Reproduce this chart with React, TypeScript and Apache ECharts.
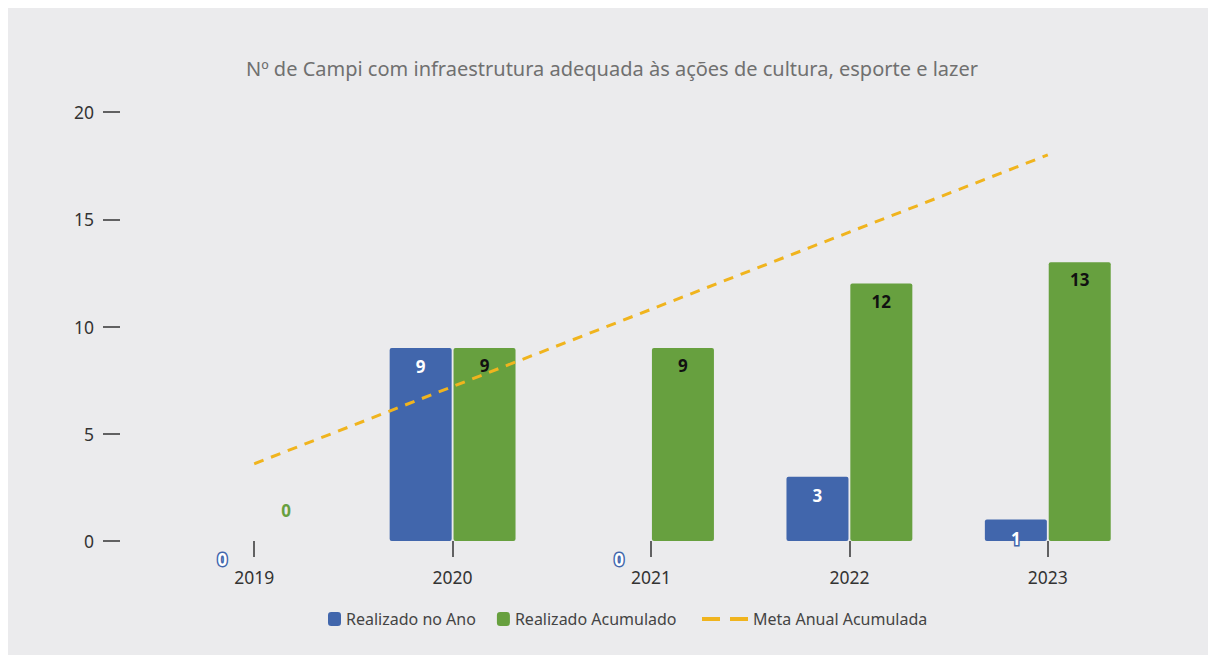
import React, { useEffect, useRef } from "react";
import * as echarts from "echarts";

const categories = ["2019", "2020", "2021", "2022", "2023"];
const realizadoAno = [0, 9, 0, 3, 1];
const realizadoAcumulado = [0, 9, 9, 12, 13];
const metaAnualAcumulada = [3.6, 7.2, 10.8, 14.4, 18.0];
const yTicks = { min: 0, max: 20, interval: 5 };

const BLUE = "#4166AC";
const GREEN = "#67A03F";
const GOLD = "#F0B41E";
const FONT = "'Noto Sans', 'Open Sans', sans-serif";

export default function App() {
  const ref = useRef<HTMLDivElement>(null);
  useEffect(() => {
    if (!ref.current) return;
    const chart = echarts.init(ref.current, undefined, { renderer: "svg" });
    const legendText = { fontSize: 16, color: "#444", fontFamily: FONT };
    chart.setOption({
      animation: false,
      backgroundColor: "#EBEBED",
      textStyle: { fontFamily: FONT },
      title: {
        text: "Nº de Campi com infraestrutura adequada às ações de cultura, esporte e lazer",
        left: "center",
        top: 45,
        textStyle: { fontSize: 20, fontWeight: "normal", color: "#707070", fontFamily: FONT },
      },
      legend: [
        {
          top: 598,
          left: 315,
          itemWidth: 13,
          itemHeight: 14,
          itemGap: 21,
          textStyle: legendText,
          data: [
            { name: "Realizado no Ano", icon: "roundRect" },
            { name: "Realizado Acumulado", icon: "roundRect" },
          ],
        },
        {
          top: 598,
          left: 689,
          itemWidth: 46,
          itemHeight: 4,
          textStyle: legendText,
          data: [
            { name: "Meta Anual Acumulada", icon: "path://M0,0H18V4H0Z M28,0H46V4H28Z", itemStyle: { color: GOLD } },
          ],
        },
      ],
      grid: { left: 147, right: 69, top: 104, bottom: 114 },
      xAxis: {
        type: "category",
        data: categories,
        axisLine: { show: false },
        axisTick: { show: true, alignWithLabel: true, length: 16, lineStyle: { color: "#333", width: 1.5 } },
        axisLabel: { margin: 27, fontSize: 17.5, color: "#333", fontFamily: FONT },
      },
      yAxis: {
        type: "value",
        min: yTicks.min,
        max: yTicks.max,
        interval: yTicks.interval,
        offset: 35,
        splitLine: { show: false },
        axisLine: { show: false },
        axisTick: { show: true, length: 17, lineStyle: { color: "#333", width: 1.5 } },
        axisLabel: { margin: 26, fontSize: 17.5, color: "#333", fontFamily: FONT },
      },
      series: [
        {
          name: "Realizado no Ano",
          type: "bar",
          barWidth: 62,
          barGap: "3%",
          itemStyle: { color: BLUE, borderRadius: 2 },
          label: {
            show: true,
            position: "insideTop",
            distance: 10,
            color: "#fff",
            fontWeight: "bold",
            fontSize: 17,
            textBorderColor: BLUE,
            textBorderWidth: 3,
            fontFamily: FONT,
          },
          data: realizadoAno,
        },
        {
          name: "Realizado Acumulado",
          type: "bar",
          barWidth: 62,
          itemStyle: { color: GREEN, borderRadius: 2 },
          label: {
            show: true,
            position: "insideTop",
            distance: 9,
            color: "#111",
            fontWeight: "bold",
            fontSize: 17,
            fontFamily: FONT,
          },
          data: realizadoAcumulado.map((v) =>
            v === 0
              ? { value: v, label: { position: "top", distance: 22, color: GREEN } }
              : v
          ),
        },
        {
          name: "Meta Anual Acumulada",
          type: "line",
          symbol: "none",
          lineStyle: { color: GOLD, width: 3, type: [10, 8] },
          itemStyle: { color: GOLD },
          data: metaAnualAcumulada,
        },
      ],
    });
    return () => chart.dispose();
  }, []);
  return <div ref={ref} style={{ width: 1208, height: 647 }} />;
}
